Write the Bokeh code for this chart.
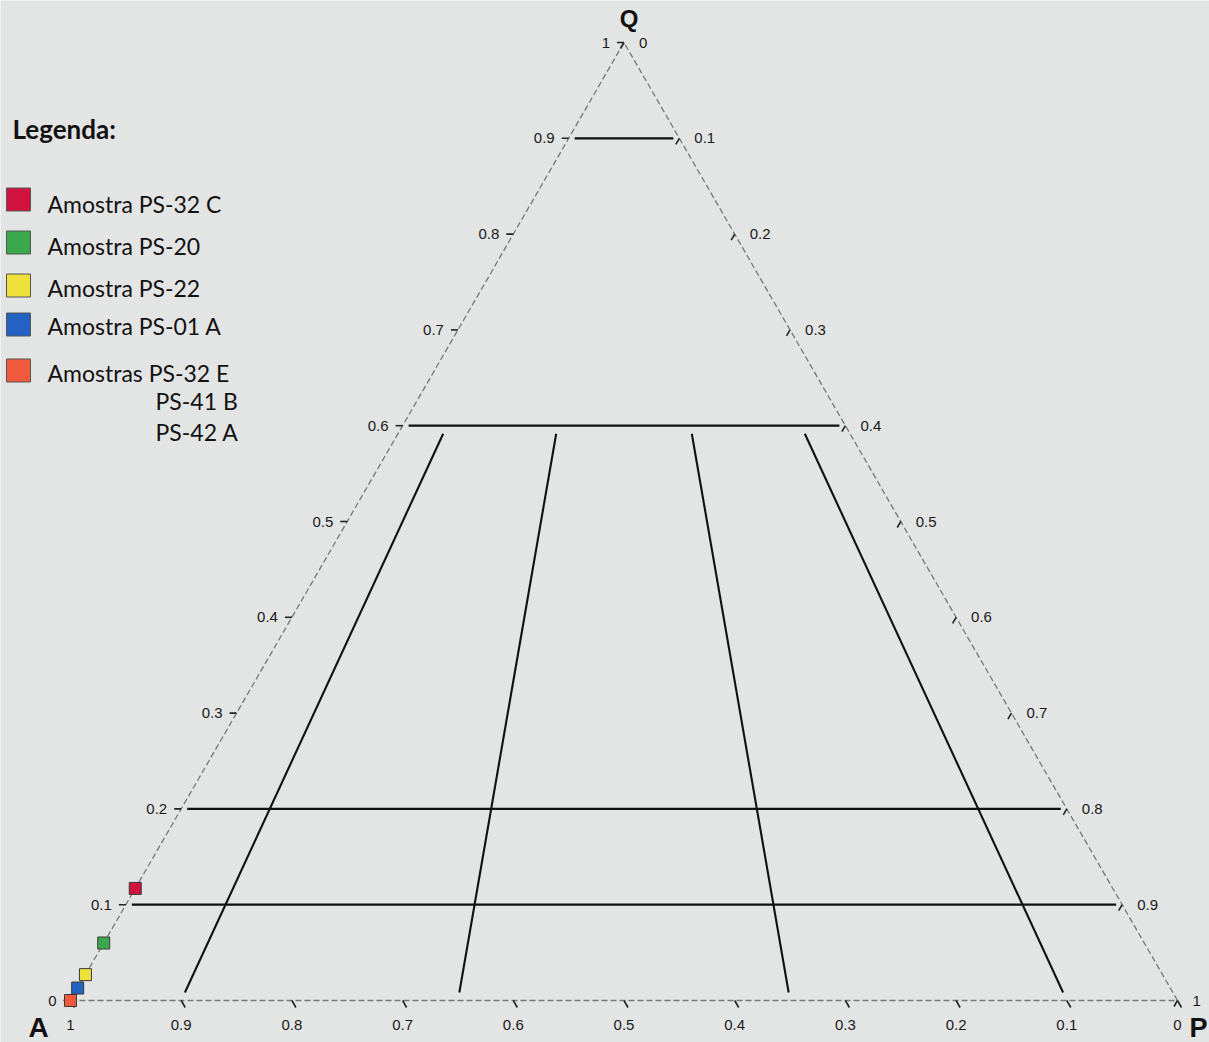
import numpy as np
from bokeh.plotting import figure
from bokeh.models import Range1d
from bokeh.core.properties import value
from bokeh.embed import file_html
from bokeh.resources import INLINE

# ---------------- data ----------------
tick_values = [0.0, 0.1, 0.2, 0.3, 0.4, 0.5, 0.6, 0.7, 0.8, 0.9, 1.0]
tick_labels = ["0", "0.1", "0.2", "0.3", "0.4", "0.5", "0.6", "0.7", "0.8", "0.9", "1"]

q_lines = [0.1, 0.2, 0.6, 0.9]          # constant-Q boundaries
ratio_lines = [0.1, 0.35, 0.65, 0.9]    # P/(A+P) boundaries
ratio_top_q = 0.6

sample_names = ["Amostra PS-32 C", "Amostra PS-20", "Amostra PS-22",
                "Amostra PS-01 A", "Amostras PS-32 E"]
sample_extra = ["PS-41 B", "PS-42 A"]
sample_Q = [0.117, 0.060, 0.027, 0.013, 0.0]
sample_P = [0.0, 0.0, 0.0, 0.0, 0.0]
sample_colors = ["#d0123e", "#3aa84c", "#efe13c", "#2462c4", "#f05a3c"]

vertex_names = ["A", "P", "Q"]

# ---------------- layout ----------------
W, H = 1209, 1042
AX, SX = 70.0, 1107.0     # px of A vertex, px per unit along base
BY, SY = 1000.0, 958.0    # px of base line, px per unit Q
BG = "#e3e4e4"


def tx(P, Q):
    return np.asarray(P, float) + np.asarray(Q, float) / 2.0


def px(X):   # page px -> data x
    return (X - AX) / SX


def py(Y):   # page px -> data y
    return (BY - Y) / SY


p = figure(width=W, height=H, output_backend="svg", toolbar_location=None,
           x_range=Range1d(-AX / SX, (W - AX) / SX),
           y_range=Range1d(-(H - BY) / SY, BY / SY),
           x_axis_location=None, y_axis_location=None,
           min_border=0, background_fill_color=BG, border_fill_color=BG,
           outline_line_color=None)
p.xgrid.visible = False
p.ygrid.visible = False

# triangle outline (dashed grey)
p.line([0, 1, 0.5, 0], [0, 0, 1, 0], line_color="#777777", line_width=1.3,
       line_dash="6 3")

# constant-Q lines
gap = 6.0 / SX
for q in q_lines:
    p.line([q / 2 + gap, 1 - q / 2 - gap], [q, q], line_color="#111111", line_width=2.3)

# ratio lines
q_hi = ratio_top_q - 8.0 / SY
q_lo = 8.0 / SY
for r in ratio_lines:
    xs = [r * (1 - q_hi) + q_hi / 2, r * (1 - q_lo) + q_lo / 2]
    p.line(xs, [q_hi, q_lo], line_color="#111111", line_width=2.1)

tv = np.array(tick_values)
# left ticks (Q)
lx0 = tv / 2
p.segment(lx0, tv, lx0 - 7 / SX, tv, line_color="#222222", line_width=1.6)
# right ticks (P)
rx0 = (1 + tv) / 2
ry0 = 1 - tv
p.segment(rx0, ry0, rx0 - 3.5 / SX, ry0 - 6 / SY, line_color="#222222", line_width=1.6)
# bottom ticks (A)
bx0 = 1 - tv
p.segment(bx0, 0 * tv, bx0 + 4 / SX, -7 / SY + 0 * tv, line_color="#222222", line_width=1.6)

font_tick = value("Liberation Sans")
p.text(lx0 - 14 / SX, tv, text=tick_labels, text_align="right", text_baseline="middle",
       text_font=font_tick, text_font_size=value("15px"), text_color="#1a1a1a")
p.text(rx0 + 15 / SX, ry0, text=tick_labels, text_align="left", text_baseline="middle",
       text_font=font_tick, text_font_size=value("15px"), text_color="#1a1a1a")
p.text(bx0, 0 * tv - 24 / SY, text=tick_labels, text_align="center", text_baseline="middle",
       text_font=font_tick, text_font_size=value("15px"), text_color="#1a1a1a")

# vertex labels
vx = [0 - 32 / SX, 1 + 21 / SX, 0.5 + 5 / SX]
vy = [-27 / SY, -27 / SY, 1 + 24 / SY]
for name, x, y, fs in zip(vertex_names, vx, vy, ["28px", "27px", "24px"]):
    p.text([x], [y], text=[name], text_align="center", text_baseline="middle",
           text_font=value("Liberation Sans"), text_font_style="bold",
           text_font_size=value(fs), text_color="#111111")

# samples (draw bottom-most first)
sx_ = tx(sample_P, sample_Q)
order = list(range(len(sample_Q)))[::-1]
p.scatter([sx_[i] for i in order], [sample_Q[i] for i in order], marker="square", size=12,
          fill_color=[sample_colors[i] for i in order], line_color="#3a3a3a", line_width=1)

# legend
p.text([px(12)], [py(128)], text=["Legenda:"], text_align="left", text_baseline="middle",
       text_font=value("Lato"), text_font_style="bold", text_font_size=value("26px"),
       text_color="#111111")
leg_box_y = [199, 242, 285, 324, 370]
leg_txt_y = [203, 245, 287, 325, 372]
p.rect([px(18)] * 5, [py(y) for y in leg_box_y], width=24, height=23,
       width_units="screen", height_units="screen",
       fill_color=sample_colors, line_color="#555555", line_width=1)
p.text([px(47)] * 5, [py(y) for y in leg_txt_y], text=sample_names, text_align="left",
       text_baseline="middle", text_font=value("Lato"), text_font_size=value("23px"),
       text_color="#111111")
p.text([px(155)] * 2, [py(400), py(431)], text=sample_extra, text_align="left",
       text_baseline="middle", text_font=value("Lato"), text_font_size=value("23px"),
       text_color="#111111")

open("out.html", "w").write(file_html(p, INLINE))
